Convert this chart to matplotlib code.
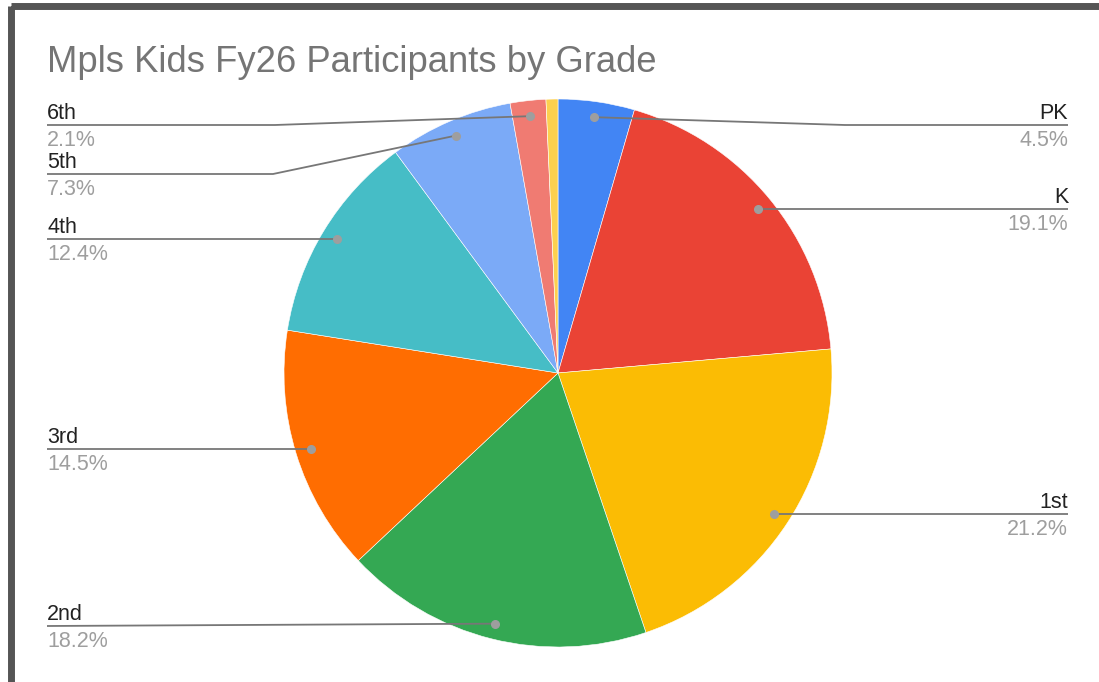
import numpy as np
import matplotlib
matplotlib.use("Agg")
import matplotlib.pyplot as plt
from matplotlib.patches import Rectangle

plt.rcParams['font.family'] = ['Liberation Sans', 'DejaVu Sans']

# data (percent of participants)
grades = ['PK', 'K', '1st', '2nd', '3rd', '4th', '5th', '6th', 'Other']
shares = [4.5, 19.1, 21.2, 18.2, 14.5, 12.4, 7.3, 2.1, 0.7]
colors = ['#4285F4', '#EA4335', '#FBBC04', '#34A853', '#FF6D01',
          '#46BDC6', '#7BAAF7', '#F07B72', '#FCD04F']
show_label = [True, True, True, True, True, True, True, True, False]

# label layout: side and y of the leader line (None = level with the dot), elbow x
label_side = ['R', 'R', 'R', 'L', 'L', 'L', 'L', 'L', None]
label_y = [125, None, None, 626, None, None, 174, 125, None]
elbow_x = [845, None, None, None, None, None, 273, 275, None]

W, H = 1099, 682
fig = plt.figure(figsize=(W / 100, H / 100), dpi=100)
ax = fig.add_axes([0, 0, 1, 1])
ax.set_xlim(0, W)
ax.set_ylim(H, 0)
ax.set_aspect('equal')
ax.axis('off')

# frame
ax.add_patch(Rectangle((11, 6), W + 20, H + 20, fill=False,
                       edgecolor='#555555', linewidth=5))

cx, cy, R = 558, 373, 274
ax.pie(shares, colors=colors, center=(cx, cy), radius=R,
       startangle=-90, counterclock=True,
       wedgeprops=dict(linewidth=0.4, edgecolor='white'))
ax.set_xlim(0, W)
ax.set_ylim(H, 0)

ax.text(47, 72, 'Mpls Kids Fy26 Participants by Grade', fontsize=26.2,
        color='#757575', va='baseline', ha='left')

total = sum(shares)
cum = 0
for i, v in enumerate(shares):
    mid = cum + v / 2
    cum += v
    if not show_label[i]:
        continue
    th = np.radians(-90 + 360 * mid / total)
    dx = cx + 0.943 * R * np.cos(th)
    dy = cy + 0.943 * R * np.sin(th)
    ly = dy if label_y[i] is None else label_y[i]
    if label_side[i] == 'R':
        xs = [dx] + ([elbow_x[i]] if elbow_x[i] else []) + [1068]
        tx, ha = 1068, 'right'
    else:
        xs = [dx] + ([elbow_x[i]] if elbow_x[i] else []) + [47]
        tx, ha = 47, 'left'
    ys = [dy] + ([ly] if elbow_x[i] else []) + [ly]
    ax.plot(xs, ys, color='#777777', linewidth=1.3, solid_capstyle='butt', zorder=3)
    ax.plot(dx, dy, 'o', color='#9e9e9e', markersize=5.5, zorder=4)
    ax.text(tx, ly - 6, grades[i], fontsize=15.5, color='#222222',
            ha=ha, va='baseline')
    ax.text(tx, ly + 5, f'{v:.1f}%', fontsize=15.5, color='#9e9e9e',
            ha=ha, va='top')

fig.savefig('out.png', dpi=100, facecolor='white')
